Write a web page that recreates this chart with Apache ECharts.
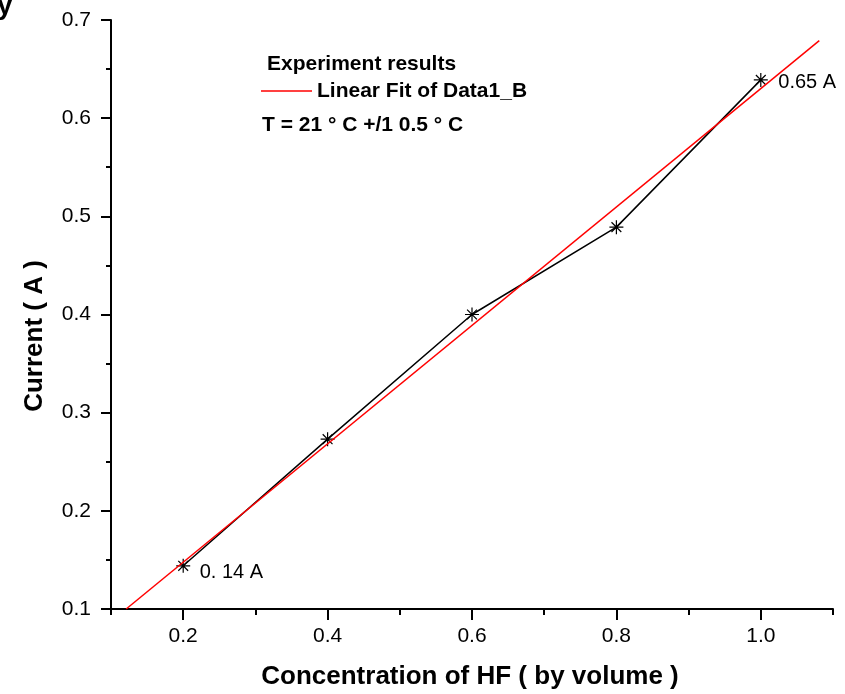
<!DOCTYPE html>
<html>
<head>
<meta charset="utf-8">
<style>
  html, body { margin: 0; padding: 0; background: #fff; }
  #main { width: 845px; height: 694px; }
</style>
<script src="https://cdn.jsdelivr.net/npm/echarts@6/dist/echarts.min.js"></script>
</head>
<body>
<div id="main"></div>
<script>
// measured points (concentration of HF vs current)
var concX = [0.2, 0.4, 0.6, 0.8, 1.0];
var currentY = [0.144, 0.273, 0.400, 0.489, 0.639];
// point annotations
var pointLabels = ["0. 14 A", "", "", "", "0.65 A"];
// linear fit end points
var fitX = [0.121, 1.081];
var fitY = [0.1, 0.679];
// axis ticks
var xMajorTicks = [0.2, 0.4, 0.6, 0.8, 1.0];

var font = "Liberation Sans, Arial, sans-serif";

var dataPts = concX.map(function (x, i) {
  var item = { value: [x, currentY[i]] };
  if (pointLabels[i]) {
    item.label = {
      show: true,
      position: "right",
      distance: i === 0 ? 7 : 8,
      offset: i === 0 ? [0, 7] : [0, 3],
      formatter: pointLabels[i],
      color: "#000",
      fontSize: 20,
      fontFamily: font
    };
  }
  return item;
});
var fitPts = fitX.map(function (x, i) { return [x, fitY[i]]; });

var myChart = echarts.init(document.getElementById("main"));
var option = {
  animation: false,
  backgroundColor: "#fff",
  grid: { left: 111, right: 12, top: 20, bottom: 85, containLabel: false },
  xAxis: [
    {
      type: "value",
      min: 0.1,
      max: 1.1,
      interval: 0.1,
      axisLine: { show: true, onZero: false, lineStyle: { color: "#000", width: 2 } },
      axisTick: { show: true, customValues: xMajorTicks, length: 11, lineStyle: { color: "#000", width: 2 } },
      axisLabel: {
        customValues: xMajorTicks,
        margin: 17,
        color: "#000",
        fontSize: 21,
        fontFamily: font,
        formatter: function (v) { return v.toFixed(1); }
      },
      splitLine: { show: false }
    },
    {
      // minor ticks every 0.1
      type: "value",
      min: 0.1,
      max: 1.1,
      interval: 0.1,
      position: "bottom",
      axisLine: { show: false },
      axisTick: { show: true, length: 6, lineStyle: { color: "#000", width: 2 } },
      axisLabel: { show: false },
      splitLine: { show: false }
    }
  ],
  yAxis: {
    type: "value",
    min: 0.1,
    max: 0.7,
    interval: 0.1,
    axisLine: { show: true, onZero: false, lineStyle: { color: "#000", width: 2 } },
    axisTick: { show: true, length: 10, lineStyle: { color: "#000", width: 2 } },
    minorTick: { show: true, splitNumber: 2, length: 5, lineStyle: { color: "#000", width: 2 } },
    axisLabel: {
      margin: 20,
      color: "#000",
      fontSize: 21,
      fontFamily: font,
      formatter: function (v) { return v.toFixed(1); }
    },
    splitLine: { show: false }
  },
  graphic: [
    {
      type: "text", left: -3, top: -8,
      style: { text: "y", fontSize: 28, fontWeight: "bold", fontFamily: font, fill: "#000" }
    },
    {
      type: "text", x: 267, y: 64,
      style: { text: "Experiment results", fontSize: 21, fontWeight: "bold", fontFamily: font, fill: "#000", verticalAlign: "middle" }
    },
    {
      type: "line",
      shape: { x1: 261, y1: 91, x2: 312, y2: 91 },
      style: { stroke: "#ff0000", lineWidth: 1.5 }
    },
    {
      type: "text", x: 317, y: 91,
      style: { text: "Linear Fit of Data1_B", fontSize: 21, fontWeight: "bold", fontFamily: font, fill: "#000", verticalAlign: "middle" }
    },
    {
      type: "text", x: 262, y: 125,
      style: { text: "T = 21 \u00b0 C +/1 0.5 \u00b0 C", fontSize: 21, fontWeight: "bold", fontFamily: font, fill: "#000", verticalAlign: "middle" }
    },
    {
      type: "text", x: 470, y: 677,
      style: { text: "Concentration of HF ( by volume )", fontSize: 26, fontWeight: "bold", fontFamily: font, fill: "#000", align: "center", verticalAlign: "middle" }
    },
    {
      type: "text", x: 35, y: 336, rotation: Math.PI / 2,
      style: { text: "Current ( A )", fontSize: 26, fontWeight: "bold", fontFamily: font, fill: "#000", align: "center", verticalAlign: "middle" }
    }
  ],
  series: [
    {
      name: "Experiment results",
      type: "line",
      xAxisIndex: 0,
      data: dataPts,
      symbol: "path://M0,5L10,5M5,0L5,10M1.5,1.5L8.5,8.5M1.5,8.5L8.5,1.5",
      symbolSize: 14,
      itemStyle: { color: "none", borderColor: "#000", borderWidth: 1.2 },
      lineStyle: { color: "#000", width: 1.5 },
      z: 2
    },
    {
      name: "Linear Fit of Data1_B",
      type: "line",
      xAxisIndex: 0,
      data: fitPts,
      symbol: "none",
      lineStyle: { color: "#ff0000", width: 1.5 },
      z: 3
    }
  ]
};
myChart.setOption(option);
</script>
</body>
</html>
